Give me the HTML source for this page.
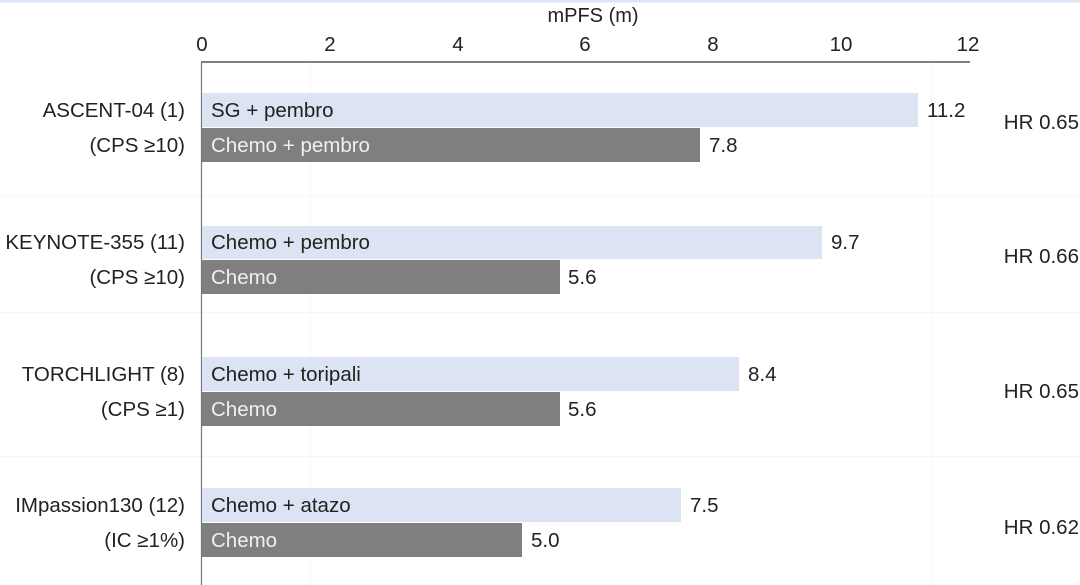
<!DOCTYPE html>
<html><head><meta charset="utf-8"><style>
html,body{margin:0;padding:0;background:#fff;}
svg{display:block;font-family:"Liberation Sans",sans-serif;}
</style></head><body>
<svg width="1080" height="585" viewBox="0 0 1080 585" xmlns="http://www.w3.org/2000/svg">
<rect x="0" y="0" width="1080" height="2.5" fill="#dbe6f7"/>
<g stroke="#f7f7f7" stroke-width="1">
<line x1="310.5" y1="62" x2="310.5" y2="585"/>
<line x1="931.5" y1="62" x2="931.5" y2="585"/>
<line x1="0" y1="195.5" x2="1080" y2="195.5"/>
<line x1="0" y1="312.5" x2="1080" y2="312.5"/>
<line x1="0" y1="456.5" x2="1080" y2="456.5"/>
</g>
<text x="593" y="22" font-size="20" text-anchor="middle" fill="#222">mPFS (m)</text>
<g font-size="20.5" fill="#222" text-anchor="middle">
<text x="202" y="51">0</text><text x="330" y="51">2</text><text x="458" y="51">4</text>
<text x="585" y="51">6</text><text x="713" y="51">8</text><text x="841" y="51">10</text><text x="968" y="51">12</text>
</g>
<line x1="201" y1="62" x2="970" y2="62" stroke="#555" stroke-width="1.5"/>
<line x1="201.5" y1="62" x2="201.5" y2="585" stroke="#777" stroke-width="1.2"/>
<g fill="#dce3f3">
<rect x="202" y="93" width="716" height="34"/>
<rect x="202" y="226" width="620" height="33"/>
<rect x="202" y="357" width="537" height="34"/>
<rect x="202" y="488" width="479" height="34"/>
</g>
<g fill="#7f7f7f">
<rect x="202" y="128" width="498" height="34"/>
<rect x="202" y="260" width="358" height="34"/>
<rect x="202" y="392" width="358" height="34"/>
<rect x="202" y="523" width="320" height="34"/>
</g>
<g font-size="20.5" fill="#222">
<text x="211" y="117">SG + pembro</text>
<text x="211" y="249">Chemo + pembro</text>
<text x="211" y="381">Chemo + toripali</text>
<text x="211" y="512">Chemo + atazo</text>
<text x="927" y="117">11.2</text><text x="709" y="152">7.8</text>
<text x="831" y="249">9.7</text><text x="568" y="284">5.6</text>
<text x="748" y="381">8.4</text><text x="568" y="416">5.6</text>
<text x="690" y="512">7.5</text><text x="531" y="547">5.0</text>
</g>
<g font-size="20.5" fill="#f0f0f0">
<text x="211" y="152">Chemo + pembro</text>
<text x="211" y="284">Chemo</text>
<text x="211" y="416">Chemo</text>
<text x="211" y="547">Chemo</text>
</g>
<g font-size="20.5" fill="#222" text-anchor="end">
<text x="185" y="117">ASCENT-04 (1)</text><text x="185" y="152">(CPS ≥10)</text>
<text x="185" y="249">KEYNOTE-355 (11)</text><text x="185" y="284">(CPS ≥10)</text>
<text x="185" y="381">TORCHLIGHT (8)</text><text x="185" y="416">(CPS ≥1)</text>
<text x="185" y="512">IMpassion130 (12)</text><text x="185" y="547">(IC ≥1%)</text>
<text x="1079" y="129">HR 0.65</text>
<text x="1079" y="263">HR 0.66</text>
<text x="1079" y="398">HR 0.65</text>
<text x="1079" y="534">HR 0.62</text>
</g>
</svg>
</body></html>
